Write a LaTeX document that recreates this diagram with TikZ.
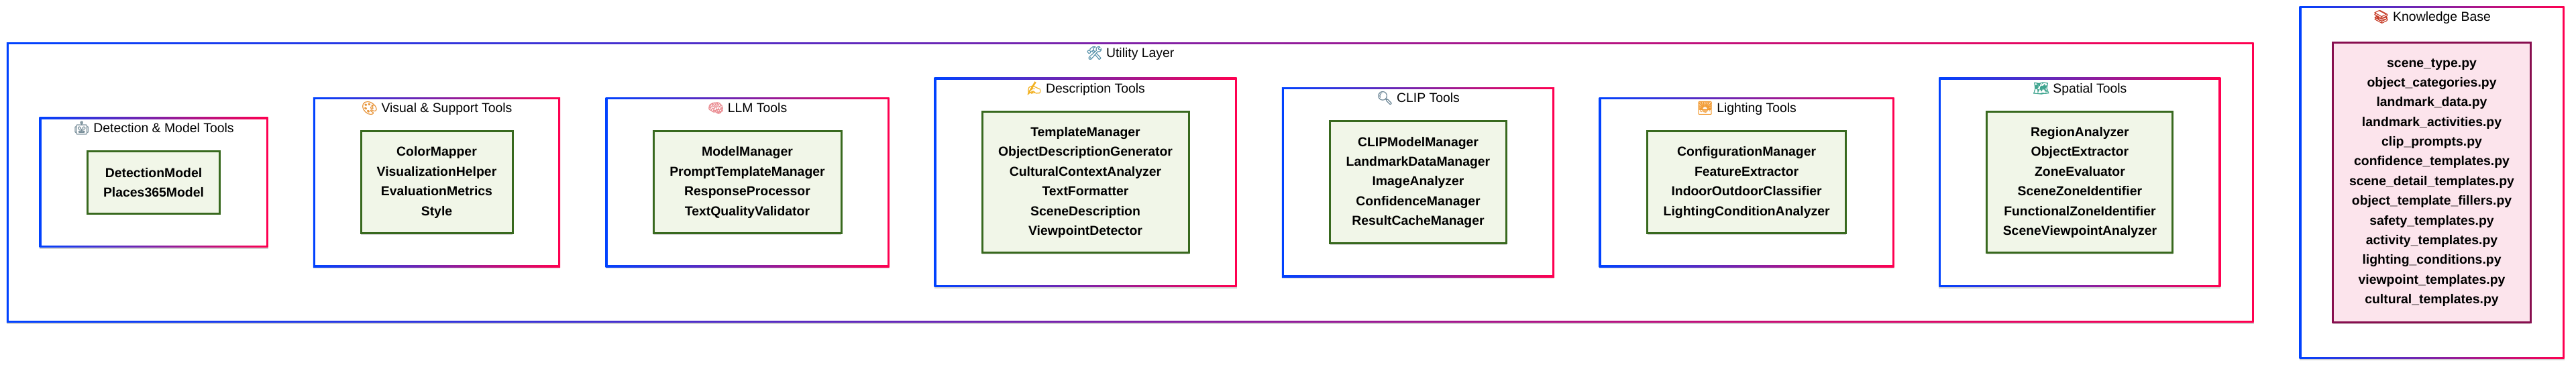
\documentclass[tikz,border=0pt]{standalone}
\usepackage{fontspec}
\setmainfont{Liberation Sans}
\newfontfamily\emojifont[FakeBold=1.6]{Noto Emoji}
\definecolor{gcBlue}{HTML}{0042FF}
\definecolor{gcRed}{HTML}{FF0050}
\definecolor{gcToolFill}{HTML}{F1F6E8}
\definecolor{gcToolLine}{HTML}{38691E}
\definecolor{gcDataFill}{HTML}{FCE4EC}
\definecolor{gcDataLine}{HTML}{880E4F}
\usetikzlibrary{calc,shadows}

\begin{document}
\begin{tikzpicture}[
  softshadow/.style={drop shadow={shadow xshift=0cm, shadow yshift=-0.05cm, opacity=.18, fill=black}},
  frame/.style={rectangle, inner sep=0pt, softshadow, left color=gcBlue, right color=gcRed,
    path picture={\fill[white] ($(path picture bounding box.south west)+(0.075,0.075)$)
      rectangle ($(path picture bounding box.north east)-(0.075,0.075)$);}},
  toolbox/.style={rectangle, softshadow, line width=0.075cm, draw=gcToolLine, fill=gcToolFill, align=center,
    font=\fontsize{13.8}{20.9}\selectfont\bfseries},
  databox/.style={toolbox, draw=gcDataLine, fill=gcDataFill},
  grouptitle/.style={inner sep=0pt, text height=0.36cm, text depth=0.12cm,
    font=\fontsize{13.8}{16}\selectfont}
]
  \useasboundingbox (0,0) rectangle (96,13.65);

  % outer layers
  \node[frame, minimum width=83.74cm, minimum height=10.425cm] (utility) at (42.118,6.85) {};
  \node[frame, minimum width=9.875cm, minimum height=13.125cm] (knowledge) at (90.625,6.85) {};

  % tool groups
  \node[frame, minimum width=8.525cm, minimum height=4.85cm] (detection) at (5.725,6.85) {};
  \node[frame, minimum width=9.21cm, minimum height=6.325cm] (visual) at (16.275,6.85) {};
  \node[frame, minimum width=10.575cm, minimum height=6.325cm] (llm) at (27.85,6.85) {};
  \node[frame, minimum width=11.275cm, minimum height=7.8cm] (description) at (40.45,6.85) {};
  \node[frame, minimum width=10.16cm, minimum height=7.075cm] (clip) at (52.85,6.85) {};
  \node[frame, minimum width=11cm, minimum height=6.325cm] (lighting) at (65.09,6.85) {};
  \node[frame, minimum width=10.5cm, minimum height=7.8cm] (spatial) at (77.51,6.85) {};

  % titles
  \node[grouptitle] (utilityTitle) at ([yshift=-0.44cm]utility.north) {{\emojifont\textcolor[HTML]{5F97AE}{🛠}} Utility Layer};
  \node[grouptitle] (knowledgeTitle) at ([yshift=-0.44cm]knowledge.north) {{\emojifont\textcolor[HTML]{C8402C}{📚}} Knowledge Base};
  \node[grouptitle] (detectionTitle) at ([yshift=-0.44cm]detection.north) {{\emojifont\textcolor[HTML]{7A909B}{🤖}} Detection \& Model Tools};
  \node[grouptitle] (visualTitle) at ([yshift=-0.44cm]visual.north) {{\emojifont\textcolor[HTML]{E8953A}{🎨}} Visual \& Support Tools};
  \node[grouptitle] (llmTitle) at ([yshift=-0.44cm]llm.north) {{\emojifont\textcolor[HTML]{EA8A90}{🧠}} LLM Tools};
  \node[grouptitle] (descriptionTitle) at ([yshift=-0.44cm]description.north) {{\emojifont\textcolor[HTML]{F2B01E}{✍}} Description Tools};
  \node[grouptitle] (clipTitle) at ([yshift=-0.44cm]clip.north) {{\emojifont\textcolor[HTML]{6E8898}{🔍}} CLIP Tools};
  \node[grouptitle] (lightingTitle) at ([yshift=-0.44cm]lighting.north) {{\emojifont\textcolor[HTML]{F29A30}{🌅}} Lighting Tools};
  \node[grouptitle] (spatialTitle) at ([yshift=-0.44cm]spatial.north) {{\emojifont\textcolor[HTML]{3FA58F}{🗺}} Spatial Tools};

  % contents
  \node[toolbox, minimum width=4.925cm, minimum height=2.325cm] (detectionList) at (5.725,6.85)
    {DetectionModel\\Places365Model};
  \node[toolbox, minimum width=5.65cm, minimum height=3.8cm] (visualList) at (16.275,6.85)
    {ColorMapper\\VisualizationHelper\\EvaluationMetrics\\Style};
  \node[toolbox, minimum width=7cm, minimum height=3.8cm] (llmList) at (27.85,6.85)
    {ModelManager\\PromptTemplateManager\\ResponseProcessor\\TextQualityValidator};
  \node[toolbox, minimum width=7.7cm, minimum height=5.25cm] (descriptionList) at (40.45,6.85)
    {TemplateManager\\ObjectDescriptionGenerator\\CulturalContextAnalyzer\\TextFormatter\\SceneDescription\\ViewpointDetector};
  \node[toolbox, minimum width=6.575cm, minimum height=4.55cm] (clipList) at (52.85,6.85)
    {CLIPModelManager\\LandmarkDataManager\\ImageAnalyzer\\ConfidenceManager\\ResultCacheManager};
  \node[toolbox, minimum width=7.4cm, minimum height=3.8cm] (lightingList) at (65.09,6.85)
    {ConfigurationManager\\FeatureExtractor\\IndoorOutdoorClassifier\\LightingConditionAnalyzer};
  \node[toolbox, minimum width=6.925cm, minimum height=5.25cm] (spatialList) at (77.51,6.85)
    {RegionAnalyzer\\ObjectExtractor\\ZoneEvaluator\\SceneZoneIdentifier\\FunctionalZoneIdentifier\\SceneViewpointAnalyzer};
  \node[databox, minimum width=7.36cm, minimum height=10.425cm] (knowledgeList) at (90.625,6.85)
    {scene\_type.py\\object\_categories.py\\landmark\_data.py\\landmark\_activities.py\\clip\_prompts.py\\confidence\_templates.py\\scene\_detail\_templates.py\\object\_template\_fillers.py\\safety\_templates.py\\activity\_templates.py\\lighting\_conditions.py\\viewpoint\_templates.py\\cultural\_templates.py};
\end{tikzpicture}
\end{document}
